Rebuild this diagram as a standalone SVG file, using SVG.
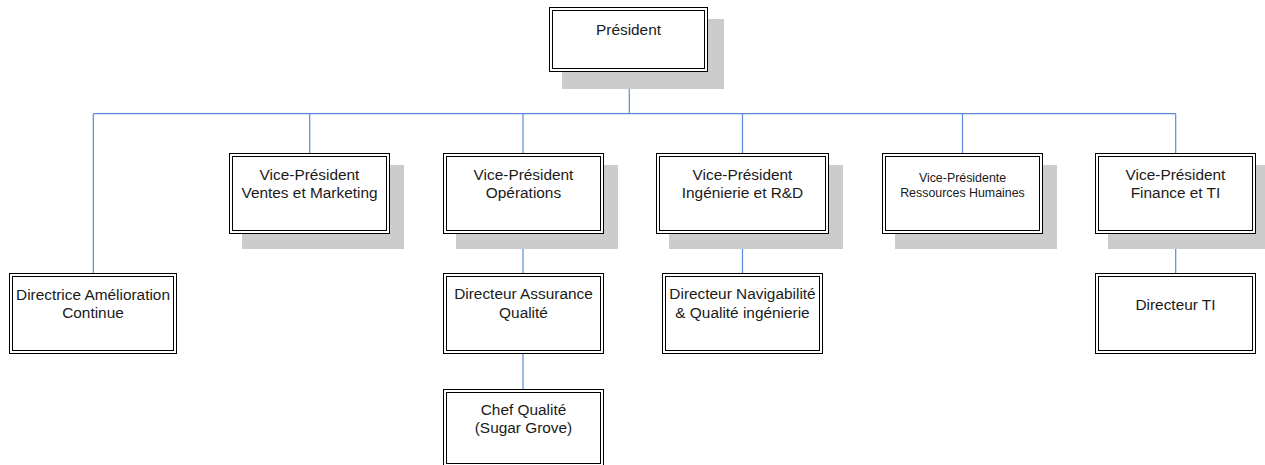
<svg xmlns="http://www.w3.org/2000/svg" width="1265" height="465" viewBox="0 0 1265 465">
<style>
.sh{fill:#cccccc;stroke:none}
.o{fill:#ffffff;stroke:#000000;stroke-width:1}
.i{fill:none;stroke:#000000;stroke-width:1}
.t{font-family:"Liberation Sans",Arial,sans-serif;font-size:15.4px;fill:#1a1a1a;text-anchor:middle}
.s{font-size:12.4px}
.c{fill:none;stroke:#5b8ad6;stroke-width:1.2}
</style>
<rect width="1265" height="465" fill="#ffffff"/>
<g id="connectors">
<path class="c" d="M629.3,72V113.7M93.3,113.7H1175.7M93.3,113.7V273.3M309.7,113.7V153M523,113.7V153M742.5,113.7V153M962.5,113.7V153M1175.7,113.7V153"/>
<path class="c" d="M523,234V273M523,353V389.3M742.5,234V273M1175.7,234V273"/>
</g>
<g id="president">
<rect class="sh" x="562" y="19" width="162" height="70"/>
<rect class="o" x="549.5" y="7.5" width="158" height="64"/>
<rect class="i" x="552.5" y="10.5" width="152" height="58"/>
<text class="t" x="628.5" y="35">Président</text>
</g>
<g id="vp-ventes">
<rect class="sh" x="242" y="165" width="162" height="84"/>
<rect class="o" x="229.5" y="153.5" width="160" height="80"/>
<rect class="i" x="232.5" y="156.5" width="154" height="74"/>
<text class="t" x="309.5" y="180">Vice-Président</text>
<text class="t" x="309.5" y="198">Ventes et Marketing</text>
</g>
<g id="vp-operations">
<rect class="sh" x="456" y="165" width="162" height="84"/>
<rect class="o" x="443.5" y="153.5" width="160" height="80"/>
<rect class="i" x="446.5" y="156.5" width="154" height="74"/>
<text class="t" x="523.5" y="180">Vice-Président</text>
<text class="t" x="523.5" y="198">Opérations</text>
</g>
<g id="vp-ingenierie">
<rect class="sh" x="669" y="165" width="174" height="84"/>
<rect class="o" x="656.5" y="153.5" width="172" height="80"/>
<rect class="i" x="659.5" y="156.5" width="166" height="74"/>
<text class="t" x="742.5" y="180">Vice-Président</text>
<text class="t" x="742.5" y="198">Ingénierie et R&amp;D</text>
</g>
<g id="vp-rh">
<rect class="sh" x="895" y="165" width="162" height="84"/>
<rect class="o" x="882.5" y="153.5" width="160" height="80"/>
<rect class="i" x="885.5" y="156.5" width="154" height="74"/>
<text class="t s" x="962.5" y="181.5">Vice-Présidente</text>
<text class="t s" x="962.5" y="196.5">Ressources Humaines</text>
</g>
<g id="vp-finance">
<rect class="sh" x="1108" y="165" width="162" height="84"/>
<rect class="o" x="1095.5" y="153.5" width="160" height="80"/>
<rect class="i" x="1098.5" y="156.5" width="154" height="74"/>
<text class="t" x="1175.5" y="180">Vice-Président</text>
<text class="t" x="1175.5" y="198">Finance et TI</text>
</g>
<g id="dir-amelioration">
<rect class="o" x="9.5" y="273.5" width="167" height="80"/>
<rect class="i" x="12.5" y="276.5" width="161" height="74"/>
<text class="t" x="93" y="300">Directrice Amélioration</text>
<text class="t" x="93" y="318">Continue</text>
</g>
<g id="dir-assurance">
<rect class="o" x="443.5" y="273.5" width="160" height="80"/>
<rect class="i" x="446.5" y="276.5" width="154" height="74"/>
<text class="t" x="523.5" y="299">Directeur Assurance</text>
<text class="t" x="523.5" y="317.5">Qualité</text>
</g>
<g id="chef-qualite">
<rect class="o" x="443.5" y="389.5" width="160" height="77"/>
<rect class="i" x="446.5" y="392.5" width="154" height="71"/>
<text class="t" x="523.5" y="415">Chef Qualité</text>
<text class="t" x="523.5" y="433">(Sugar Grove)</text>
</g>
<g id="dir-navigabilite">
<rect class="o" x="662.5" y="273.5" width="160" height="80"/>
<rect class="i" x="665.5" y="276.5" width="154" height="74"/>
<text class="t" x="742.5" y="299">Directeur Navigabilité</text>
<text class="t" x="742.5" y="317.5">&amp; Qualité ingénierie</text>
</g>
<g id="dir-ti">
<rect class="o" x="1095.5" y="273.5" width="160" height="80"/>
<rect class="i" x="1098.5" y="276.5" width="154" height="74"/>
<text class="t" x="1175.5" y="309.5">Directeur TI</text>
</g>
</svg>
